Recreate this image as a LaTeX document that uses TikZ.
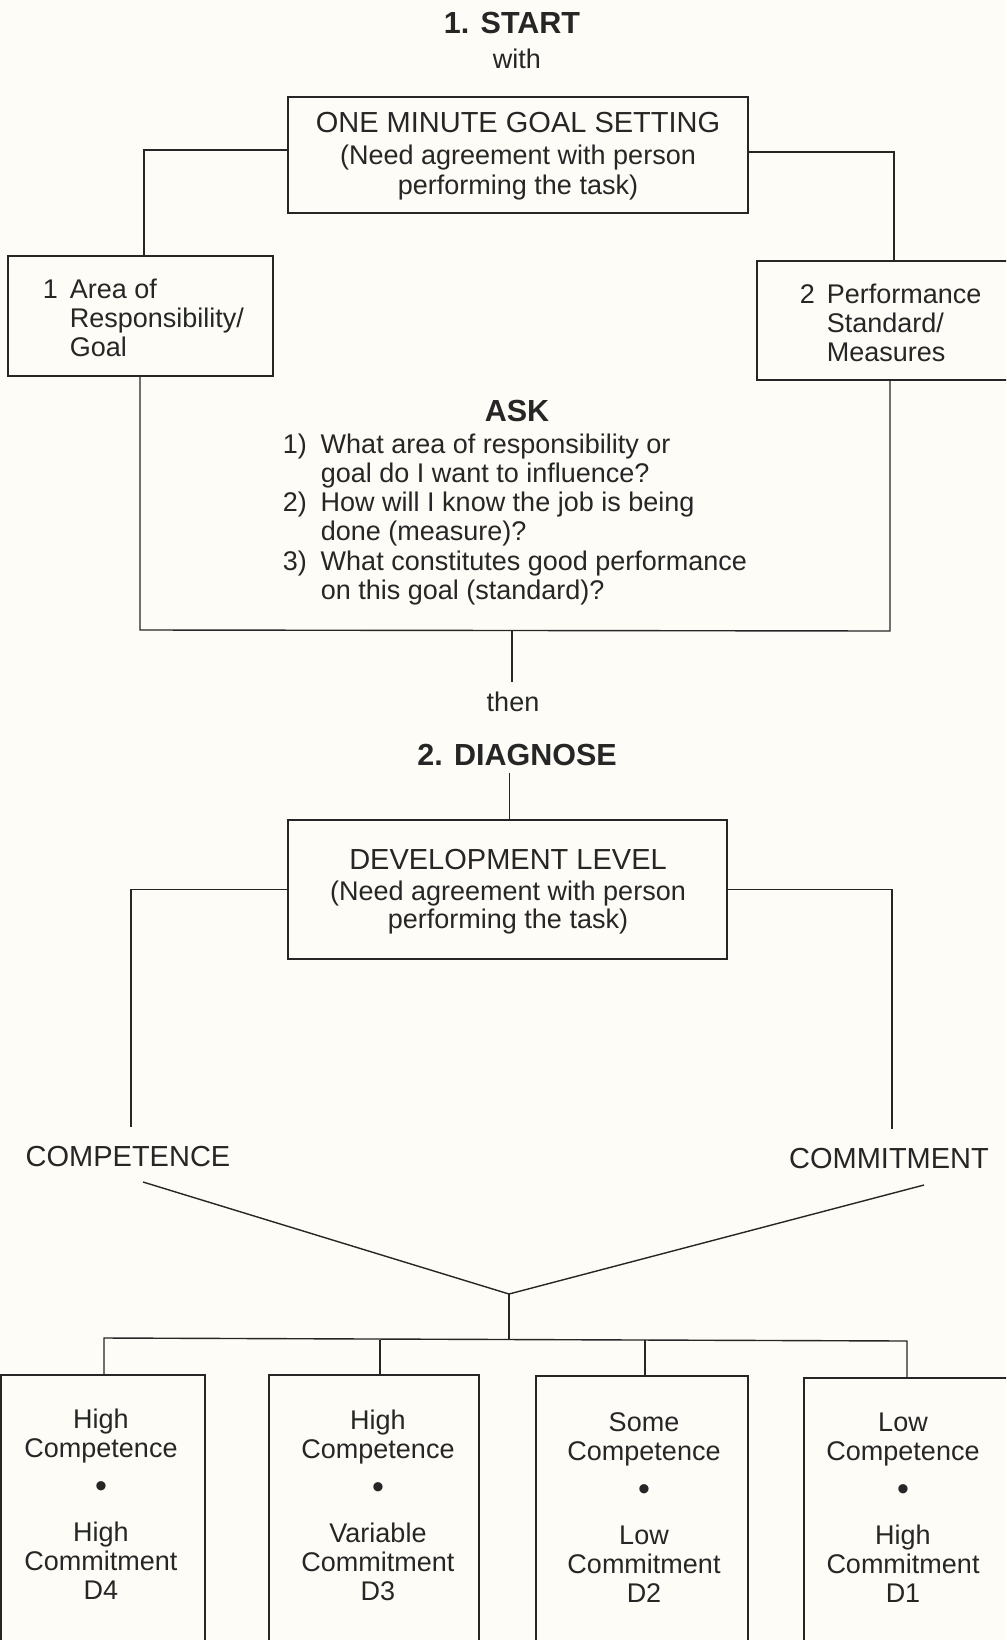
\documentclass[tikz,border=0pt]{standalone}
\usepackage{fontspec}
\setmainfont{Liberation Sans}
\usetikzlibrary{calc}
\definecolor{paper}{RGB}{253,252,246}
\definecolor{ink}{RGB}{38,38,38}
\begin{document}
\begin{tikzpicture}[x=1pt,y=-1pt,color=ink,line width=1.5pt,
  txt/.style={inner sep=0pt,font=\fontsize{27}{29.3}\selectfont},
  capt/.style={inner sep=0pt,font=\fontsize{29}{29.3}\selectfont},
  head/.style={inner sep=0pt,font=\fontsize{30.5}{32}\selectfont\bfseries},
  frame/.style={draw,inner sep=0pt,line width=1.6pt},
  link/.style={line width=1.4pt}]
\fill[paper] (0,0) rectangle (1006,1640);
\useasboundingbox (0,0) rectangle (1006,1640);
\clip (0,0) rectangle (1006,1640);

% headings
\node[head] (start) at (512,23) {1. START};
\node[txt,anchor=base] (with) at (517,69) {with};

% goal box
\node[frame,minimum width=460pt,minimum height=116pt] (goal) at (518,155) {};
\node[capt,anchor=base] (g1) at (518,133) {ONE MINUTE GOAL SETTING};
\node[txt,anchor=base] (g2) at (518,165) {(Need agreement with person};
\node[txt,anchor=base] (g3) at (518,194) {performing the task)};

% area / performance boxes
\node[frame,minimum width=265pt,minimum height=120pt] (area) at (140.5,316) {};
\node[txt,anchor=base west] (areat) at (42,298)
  {\begin{tabular}[t]{@{}l@{\hspace{12pt}}l@{}}1&Area of\\&Responsibility/\\&Goal\end{tabular}};
\node[frame,minimum width=253pt,minimum height=119pt] (perf) at (883.5,320.5) {};
\node[txt,anchor=base west] (perft) at (799,303)
  {\begin{tabular}[t]{@{}l@{\hspace{12pt}}l@{}}2&Performance\\&Standard/\\&Measures\end{tabular}};

\coordinate (aL) at (144,0);
\coordinate (aR) at (894,0);
\draw[link] ([yshift=5pt]goal.west) -| (area.north -| aL);
\draw[link] ([yshift=3pt]goal.east) -| (perf.north -| aR);

% ASK
\node[head] (ask) at (517,411) {ASK};
\node[txt,anchor=base west] (asklist) at (282,453)
  {\begin{tabular}[t]{@{}l@{\hspace{14pt}}l@{}}
   1)&What area of responsibility or\\
     &goal do I want to influence?\\
   2)&How will I know the job is being\\
     &done (measure)?\\
   3)&What constitutes good performance\\
     &on this goal (standard)?\end{tabular}};
\coordinate (askL) at (140,630);
\coordinate (askR) at (890,631);
\coordinate (askM) at (512,630.5);
\draw[link] (area.south -| askL) -- (askL) -- (askR) -- (perf.south -| askR);

\node[txt,anchor=base] (then) at (513,711) {then};
\draw[link] (askM) -- ([yshift=9pt]then.north -| askM);

\node[head] (diag) at (517,755) {2. DIAGNOSE};

% development level box
\node[frame,minimum width=439pt,minimum height=139pt] (dev) at (507.5,889.5) {};
\node[capt,anchor=base] (dv1) at (508,869) {DEVELOPMENT LEVEL};
\node[txt,anchor=base] (dv2) at (508,900) {(Need agreement with person};
\node[txt,anchor=base] (dv3) at (508,928) {performing the task)};
\draw[link] ([xshift=2pt]dev.north) -- ++(0,-46);

\node[capt] (comp) at (128,1157) {COMPETENCE};
\node[capt] (comm) at (889,1159) {COMMITMENT};
\coordinate (cL) at (131,1127);
\coordinate (cR) at (892,1129);
\draw[link] (dev.west) -| (cL);
\draw[link] (dev.east) -| (cR);

\coordinate (vL) at (143,1182);
\coordinate (vR) at (924,1185);
\coordinate (vtx) at (509,1294);
\coordinate (bus) at (509,1340);
\draw[link] (vL) -- (vtx) -- (vR);
\draw[link] (vtx) -- (bus);

% bottom boxes
\node[frame,anchor=north,minimum width=204pt,minimum height=300pt] (d4) at (103,1374) {};
\node[frame,anchor=north,minimum width=210pt,minimum height=300pt] (d3) at (374,1374) {};
\node[frame,anchor=north,minimum width=212pt,minimum height=300pt] (d2) at (642,1375) {};
\node[frame,anchor=north,minimum width=206pt,minimum height=300pt] (d1) at (907,1377) {};

\coordinate (busL) at (104,1338);
\coordinate (busR) at (907,1341);
\draw[link] (d4.north -| busL) -- (busL) -- (busR) -- (d1.north -| busR);
\draw[link] ([xshift=6pt]d3.north) -- ([xshift=6pt]d3.north |- bus);
\draw[link] ([xshift=3pt]d2.north) -- ([xshift=3pt]d2.north |- bus);

\foreach \n/\x/\dy/\a/\b in {4/101/0/High/High, 3/378/1/High/Variable, 2/644/3/Some/Low, 1/903/3/Low/High}{
  \node[txt,anchor=base] (t\n a) at (\x,1428+\dy)
    {\begin{tabular}[t]{@{}c@{}}\a\\Competence\end{tabular}};
  \node[inner sep=0pt,font=\fontsize{34}{34}\selectfont] (t\n b) at (\x,1490+\dy) {\textbullet};
  \node[txt,anchor=base] (t\n c) at (\x,1541+\dy)
    {\begin{tabular}[t]{@{}c@{}}\b\\Commitment\\D\n\end{tabular}};
}
\end{tikzpicture}
\end{document}
